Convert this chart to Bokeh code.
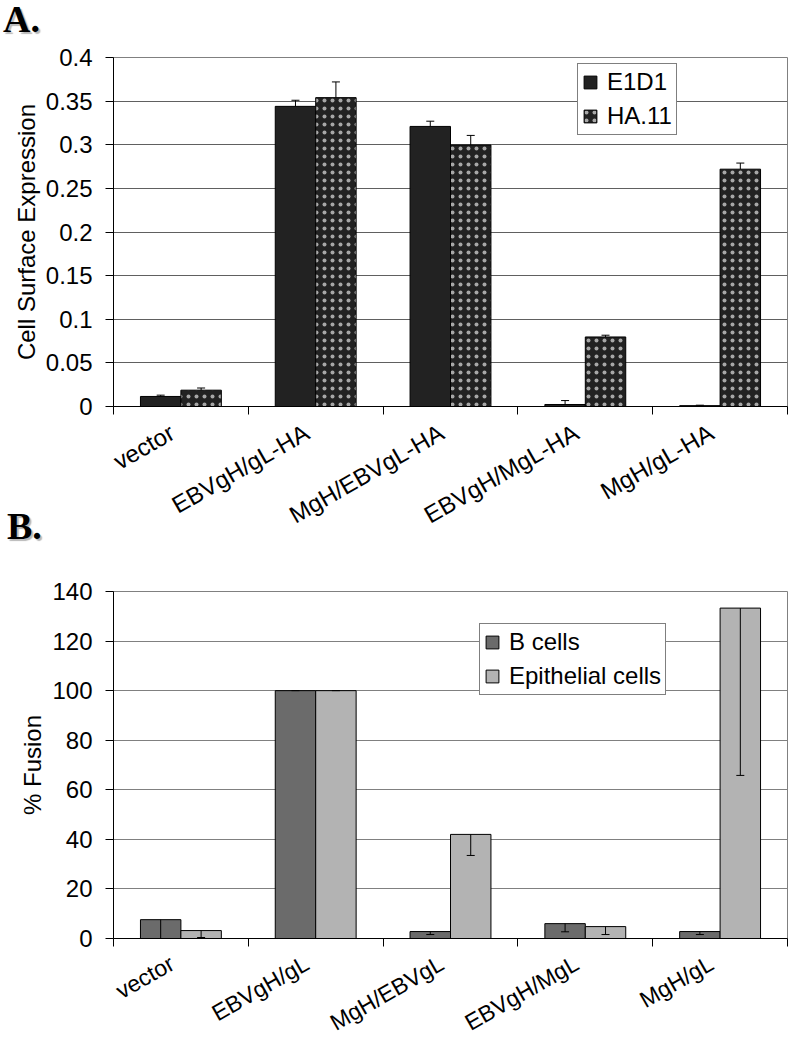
from bokeh.plotting import figure
from bokeh.models import (ColumnDataSource, Whisker, TeeHead, Legend, LegendItem,
                          FixedTicker, Range1d, Div)
from bokeh.layouts import column
from bokeh.embed import file_html
from bokeh.resources import INLINE

FONT = "Liberation Sans"

# ---------------- data: panel A ----------------
categories_a = ["vector", "EBVgH/gL-HA", "MgH/EBVgL-HA", "EBVgH/MgL-HA", "MgH/gL-HA"]
e1d1 = [0.0115, 0.344, 0.321, 0.0023, 0.001]
e1d1_err = [0.0015, 0.007, 0.006, 0.0045, 0.0005]
ha11 = [0.0187, 0.354, 0.2997, 0.0797, 0.272]
ha11_err = [0.0025, 0.018, 0.011, 0.002, 0.007]
yticks_a = [0, 0.05, 0.1, 0.15, 0.2, 0.25, 0.3, 0.35, 0.4]
ytick_labels_a = ["0", "0.05", "0.1", "0.15", "0.2", "0.25", "0.3", "0.35", "0.4"]

# ---------------- data: panel B ----------------
categories_b = ["vector", "EBVgH/gL", "MgH/EBVgL", "EBVgH/MgL", "MgH/gL"]
b_cells = [7.6, 100, 2.8, 6.0, 2.8]
b_cells_err = [7.6, 0, 1.2, 3.3, 1.2]
epithelial = [3.2, 100, 42, 4.8, 133.3]
epithelial_err = [2.8, 0, 8.5, 3.2, 67.5]
yticks_b = [0, 20, 40, 60, 80, 100, 120, 140]
ytick_labels_b = ["0", "20", "40", "60", "80", "100", "120", "140"]

panel_letters = ["A.", "B."]

BAR_W = 0.3
LABEL_SHIFT = 0.065


def base_figure(cats, yticks, ylabels, ymax, height, bl, bt, bb, ylabel, grid_color,
                xstandoff, xfont):
    p = figure(width=790, height=height, x_range=Range1d(0, len(cats)),
               y_range=Range1d(0, ymax), output_backend="svg", toolbar_location=None,
               min_border_left=bl, min_border_right=3, min_border_top=bt,
               min_border_bottom=bb)
    p.background_fill_color = "white"
    p.border_fill_alpha = 0
    p.outline_line_color = "#808080"
    p.outline_line_width = 1
    label_pos = [i + 0.5 - LABEL_SHIFT for i in range(len(cats))]
    p.xaxis.ticker = FixedTicker(ticks=label_pos, minor_ticks=list(range(len(cats) + 1)))
    p.xaxis.major_label_overrides = {c: lab for c, lab in zip(label_pos, cats)}
    p.xaxis.major_tick_line_color = None
    p.xaxis.major_tick_out = 0
    p.xaxis.minor_tick_line_color = "black"
    p.xaxis.minor_tick_out = 8
    p.xaxis.minor_tick_in = 0
    p.xaxis.axis_line_color = "black"
    p.xaxis.major_label_orientation = 0.52
    p.xaxis.major_label_text_font = FONT
    p.xaxis.major_label_text_font_size = xfont
    p.xaxis.major_label_text_color = "black"
    p.xaxis.major_label_standoff = xstandoff
    p.xgrid.grid_line_color = None

    p.yaxis.ticker = FixedTicker(ticks=yticks)
    p.yaxis.major_label_overrides = {t: lab for t, lab in zip(yticks, ylabels)}
    p.yaxis.minor_tick_line_color = None
    p.yaxis.major_tick_out = 8
    p.yaxis.major_tick_in = 0
    p.yaxis.major_tick_line_color = "black"
    p.yaxis.axis_line_color = "black"
    p.yaxis.major_label_text_font = FONT
    p.yaxis.major_label_text_font_size = "24px"
    p.yaxis.major_label_text_color = "black"
    p.yaxis.major_label_standoff = 13
    p.yaxis.axis_label = ylabel
    p.yaxis.axis_label_text_font = FONT
    p.yaxis.axis_label_text_font_size = "24px"
    p.yaxis.axis_label_text_font_style = "normal"
    p.yaxis.axis_label_text_color = "black"
    p.yaxis.axis_label_standoff = 3
    p.ygrid.grid_line_color = grid_color
    p.ygrid.grid_line_width = 1
    return p


def style_legend(leg, loc):
    leg.location = loc
    leg.border_line_color = "black"
    leg.border_line_width = 1
    leg.background_fill_color = "white"
    leg.background_fill_alpha = 1
    leg.label_text_font = FONT
    leg.label_text_font_size = "24px"
    leg.label_text_color = "black"
    leg.glyph_width = 16
    leg.glyph_height = 16
    leg.label_standoff = 9
    leg.padding = 4
    leg.spacing = 6
    leg.margin = 0


def letter_div(text, pad_left, margin_top):
    return Div(text=text, width=60, height=45, margin=(margin_top, 0, 0, 0),
               styles={"font-family": "'Liberation Serif', serif", "font-weight": "bold",
                       "font-size": "38px", "line-height": "38px", "color": "black",
                       "padding-left": f"{pad_left}px",
                       "text-shadow": "2px 2px 1px #b8b8b8"})


# ================= Panel A =================
lab_a = letter_div(panel_letters[0], 3, 0)
pa = base_figure(categories_a, yticks_a, ytick_labels_a, 0.4, 548, 113, 57, 142,
                 "Cell Surface Expression", "#606060", 16, "24px")
pa.margin = (-45, 0, 0, 0)
xa = [i + 0.5 for i in range(len(categories_a))]
src_a = ColumnDataSource(dict(
    x1=[x - BAR_W / 2 for x in xa], x2=[x + BAR_W / 2 for x in xa],
    e1d1=e1d1, ha11=ha11,
    e1d1_up=[v + e for v, e in zip(e1d1, e1d1_err)],
    ha11_up=[v + e for v, e in zip(ha11, ha11_err)],
))
ra1 = pa.vbar(x="x1", top="e1d1", width=BAR_W, source=src_a,
              fill_color="#222222", line_color="black", line_width=1)
ra2 = pa.vbar(x="x2", top="ha11", width=BAR_W, source=src_a,
              fill_color="#222222", line_color="black", line_width=1,
              hatch_pattern="dot", hatch_color="white", hatch_scale=8,
              hatch_weight=0.5, hatch_alpha=0.6)
for base, lo, up in (("x1", "e1d1", "e1d1_up"), ("x2", "ha11", "ha11_up")):
    w = Whisker(source=src_a, base=base, lower=lo, upper=up, dimension="height",
                line_color="black", line_width=1, level="annotation",
                upper_head=TeeHead(size=8, line_color="black", line_width=1),
                lower_head=None)
    pa.add_layout(w)
leg_a = Legend(items=[LegendItem(label="E1D1", renderers=[ra1]),
                      LegendItem(label="HA.11", renderers=[ra2])])
style_legend(leg_a, (464, 271))
pa.add_layout(leg_a)

# ================= Panel B =================
lab_b = letter_div(panel_letters[1], 7, -41)
pb = base_figure(categories_b, yticks_b, ytick_labels_b, 140, 498, 106, 39, 112,
                 "% Fusion", "#808080", 15, "23px")
xb = [i + 0.5 for i in range(len(categories_b))]
src_b = ColumnDataSource(dict(
    x1=[x - BAR_W / 2 for x in xb], x2=[x + BAR_W / 2 for x in xb],
    bc=b_cells, ep=epithelial,
    bc_lo=[v - e for v, e in zip(b_cells, b_cells_err)],
    ep_lo=[v - e for v, e in zip(epithelial, epithelial_err)],
))
rb1 = pb.vbar(x="x1", top="bc", width=BAR_W, source=src_b,
              fill_color="#6b6b6b", line_color="black", line_width=1)
rb2 = pb.vbar(x="x2", top="ep", width=BAR_W, source=src_b,
              fill_color="#b3b3b3", line_color="black", line_width=1)
for base, top, lo in (("x1", "bc", "bc_lo"), ("x2", "ep", "ep_lo")):
    w = Whisker(source=src_b, base=base, lower=lo, upper=top, dimension="height",
                line_color="black", line_width=1, level="annotation",
                lower_head=TeeHead(size=8, line_color="black", line_width=1),
                upper_head=None)
    pb.add_layout(w)
leg_b = Legend(items=[LegendItem(label="B cells", renderers=[rb1]),
                      LegendItem(label="Epithelial cells", renderers=[rb2])])
style_legend(leg_b, (366, 243))
pb.add_layout(leg_b)

layout = column(lab_a, pa, lab_b, pb, spacing=0)
open("out.html", "w").write(file_html(layout, INLINE))
